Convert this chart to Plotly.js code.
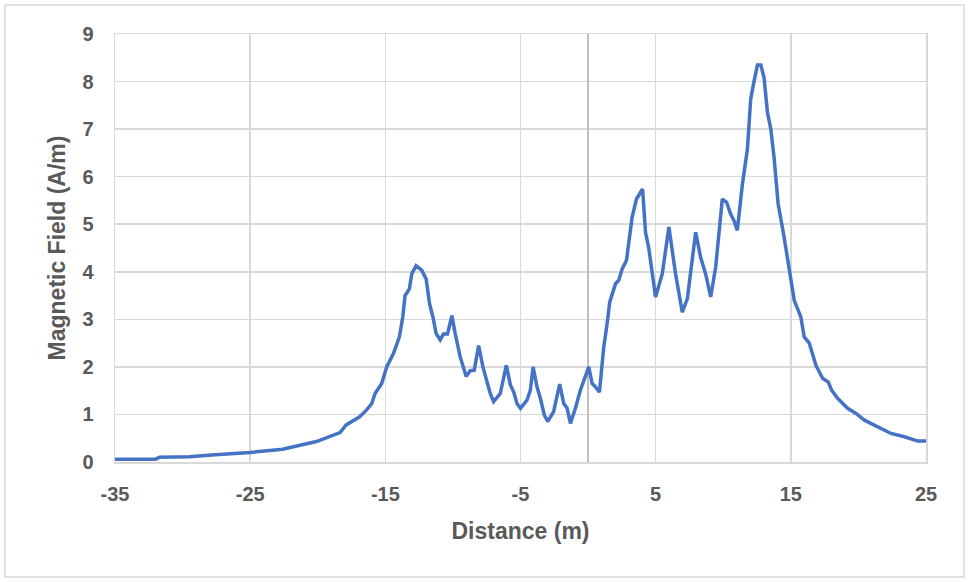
<!DOCTYPE html>
<html>
<head>
<meta charset="utf-8">
<script src="https://cdn.plot.ly/plotly-3.0.1.min.js"></script>
<style>
  html, body { margin: 0; padding: 0; background: #ffffff; }
  #chart { width: 969px; height: 582px; }
</style>
</head>
<body>
<div id="chart"></div>
<script>
// Distance along the profile (m)
const distance = [
  -35, -32, -31.7, -29.5, -27.6, -25, -22.6, -20.1, -18.35, -17.9,
  -16.9, -16.4, -16.0, -15.76, -15.27, -14.9, -14.4, -13.96, -13.71, -13.54,
  -13.22, -13.04, -12.72, -12.3, -11.98, -11.73, -11.48, -11.24, -10.94, -10.7,
  -10.4, -10.08, -9.83, -9.46, -9.02, -8.72, -8.42, -8.1, -7.78, -7.24,
  -6.99, -6.5, -6.05, -5.75, -5.5, -5.26, -5.0, -4.52, -4.27, -4.07,
  -3.78, -3.53, -3.24, -2.99, -2.55, -2.1, -1.8, -1.55, -1.31, -0.94,
  -0.57, -0.2, 0.05, 0.3, 0.55, 0.84, 1.16, 1.41, 1.6, 2.03,
  2.27, 2.52, 2.84, 3.26, 3.58, 4.03, 4.25, 4.5, 4.99, 5.49,
  5.98, 6.47, 6.97, 7.34, 7.96, 8.33, 8.7, 9.07, 9.44, 9.93,
  10.25, 10.54, 10.79, 11.04, 11.42, 11.79, 12.03, 12.28, 12.53, 12.78,
  13.02, 13.27, 13.52, 13.76, 14.06, 14.5, 14.95, 15.25, 15.74, 15.99,
  16.36, 16.86, 17.35, 17.77, 18.02, 18.46, 19.2, 19.82, 20.44, 21.18,
  21.67, 22.41, 23.4, 24.39, 25
];
// Magnetic field (A/m)
const field = [
  0.06, 0.06, 0.1, 0.11, 0.15, 0.2, 0.27, 0.43, 0.62, 0.78,
  0.95, 1.09, 1.23, 1.44, 1.65, 2.0, 2.28, 2.63, 3.05, 3.5,
  3.64, 3.96, 4.13, 4.03, 3.85, 3.33, 3.05, 2.7, 2.57, 2.69,
  2.69, 3.08, 2.7, 2.21, 1.8, 1.92, 1.93, 2.45, 2.0, 1.44,
  1.27, 1.44, 2.03, 1.62, 1.47, 1.23, 1.13, 1.3, 1.51, 2.0,
  1.58, 1.34, 0.99, 0.85, 1.06, 1.64, 1.23, 1.13, 0.81, 1.13,
  1.51, 1.82, 2.0, 1.65, 1.58, 1.47, 2.42, 2.91, 3.36, 3.75,
  3.82, 4.06, 4.24, 5.15, 5.53, 5.74, 4.83, 4.48, 3.47, 3.96,
  4.94, 3.96, 3.15, 3.43, 4.83, 4.3, 3.95, 3.47, 4.1, 5.53,
  5.46, 5.22, 5.08, 4.87, 5.85, 6.58, 7.63, 8.01, 8.35, 8.35,
  8.08, 7.35, 7.0, 6.4, 5.43, 4.73, 3.96, 3.4, 3.05, 2.63,
  2.5, 2.03, 1.76, 1.68, 1.51, 1.34, 1.13, 1.02, 0.88, 0.78,
  0.71, 0.6, 0.53, 0.44, 0.44
];
// Tick labels
const xTickVals = [-35, -25, -15, -5, 5, 15, 25];
const xTickText = ['-35', '-25', '-15', '-5', '5', '15', '25'];
const yTickVals = [0, 1, 2, 3, 4, 5, 6, 7, 8, 9];
const yTickText = ['0', '1', '2', '3', '4', '5', '6', '7', '8', '9'];
const xTitle = "Distance (m)";
const yTitle = "Magnetic Field (A/m)";

const W = 969, H = 582;
const M = { l: 115, r: 43, t: 34, b: 120 };
const pw = W - M.l - M.r, ph = H - M.t - M.b;
const px2paperX = p => (p - M.l) / pw;
const py2paperY = p => (H - M.b - p) / ph;

const textColor = '#595959';
const gridColor = '#d9d9d9';
const fontFam = 'Liberation Sans, Arial, sans-serif';

const trace = {
  x: distance,
  y: field,
  type: 'scatter',
  mode: 'lines',
  line: { color: '#4472C4', width: 3.5, shape: 'linear' },
  hoverinfo: 'x+y'
};

const layout = {
  width: W, height: H,
  margin: M,
  paper_bgcolor: '#ffffff',
  plot_bgcolor: '#ffffff',
  showlegend: false,
  font: { family: fontFam, color: textColor },
  xaxis: {
    range: [-35, 25],
    tickmode: 'array', tickvals: xTickVals, ticktext: xTickText,
    showgrid: true, gridcolor: gridColor, gridwidth: 1.5,
    zeroline: true, zerolinecolor: '#bfbfbf', zerolinewidth: 1.5,
    showline: true, linecolor: gridColor, linewidth: 1.5, mirror: true,
    ticks: 'outside', ticklen: 13, tickcolor: 'rgba(0,0,0,0)',
    tickfont: { size: 20, weight: 'bold', color: textColor, family: fontFam },
    title: { text: xTitle, standoff: 19, font: { size: 23, weight: 'bold', color: textColor, family: fontFam } }
  },
  yaxis: {
    range: [0, 9],
    tickmode: 'array', tickvals: yTickVals, ticktext: yTickText,
    showgrid: true, gridcolor: gridColor, gridwidth: 1.5,
    zeroline: false,
    showline: true, linecolor: gridColor, linewidth: 1.5, mirror: true,
    ticks: 'outside', ticklen: 16, tickcolor: 'rgba(0,0,0,0)',
    tickfont: { size: 20, weight: 'bold', color: textColor, family: fontFam },
    title: { text: yTitle, standoff: 10, font: { size: 23, weight: 'bold', color: textColor, family: fontFam } }
  },
  shapes: [{
    type: 'rect', xref: 'paper', yref: 'paper',
    x0: px2paperX(5), x1: px2paperX(964),
    y0: py2paperY(577), y1: py2paperY(5),
    line: { color: gridColor, width: 1.5 },
    fillcolor: 'rgba(0,0,0,0)', layer: 'below'
  }]
};

Plotly.newPlot('chart', [trace], layout, { displayModeBar: false, staticPlot: true });
</script>
</body>
</html>
